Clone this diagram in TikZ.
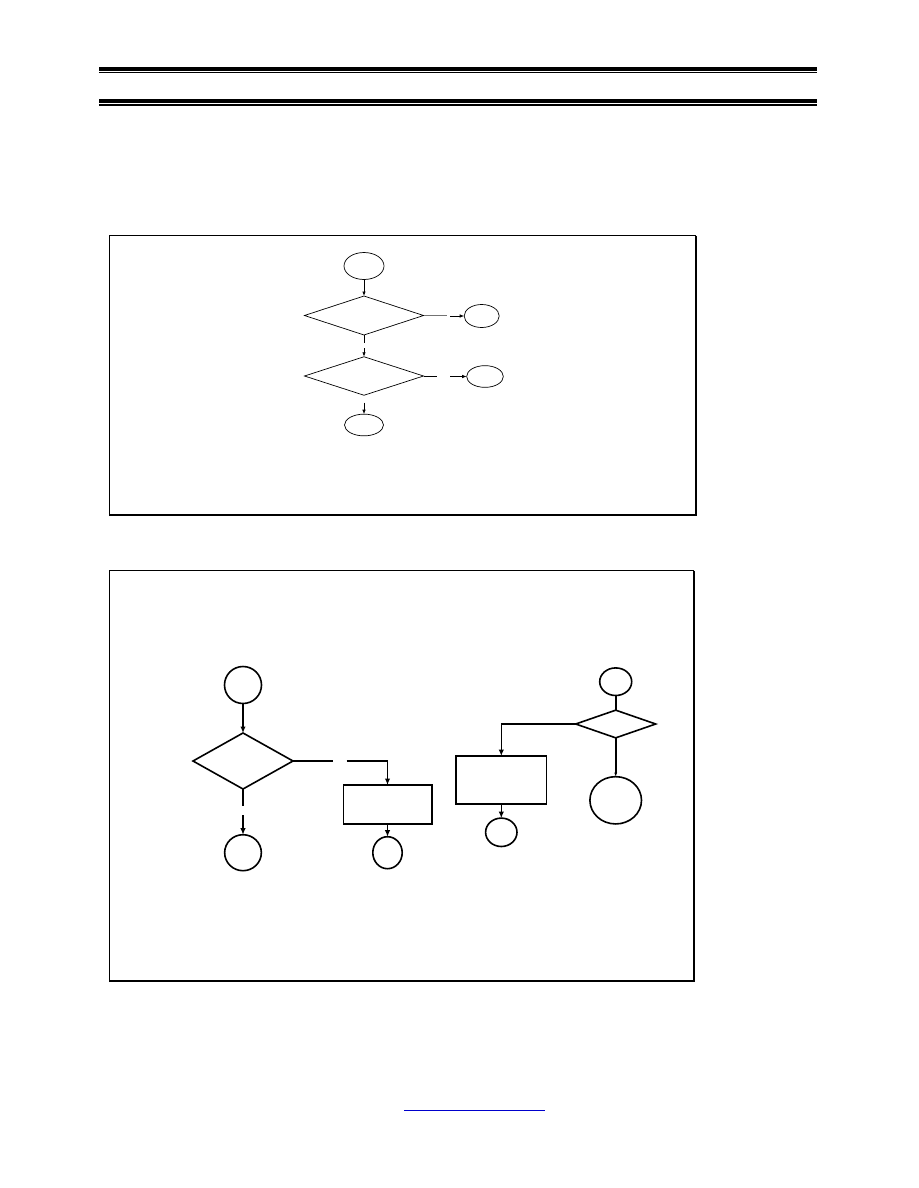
\documentclass[tikz,border=0pt]{standalone}
\usetikzlibrary{shapes.geometric,arrows.meta,calc}
\begin{document}
\begin{tikzpicture}[x=1pt,y=-1pt,
  every node/.style={inner sep=0pt,outer sep=0pt},
  thinline/.style={line width=0.7pt},
  boldline/.style={line width=1.6pt},
  oval/.style={draw,ellipse},
  dmd/.style={draw,diamond},
  box/.style={draw,rectangle},
  tip/.style={-{Latex[length=4.5pt,width=3.5pt]}},
  bigtip/.style={-{Latex[length=6.5pt,width=5.5pt]}},
  frame/.style={line width=0.8pt},
  shadow/.style={line width=2.4pt}
]
\useasboundingbox (0,0) rectangle (918,1188);

% header rules
\fill (99,66.7) rectangle (817,70.7);
\draw[line width=1.3pt] (99,72.8) -- (817,72.8);
\fill (99,99) rectangle (817,103);
\draw[line width=1.3pt] (99,105) -- (817,105);

% top frame
\draw[frame] (109.3,516) -- (109.3,235.7) -- (696,235.7);
\draw[shadow] (696,235.7) -- (696,514.8) -- (109.3,514.8);

% bottom frame
\draw[frame] (109.3,982) -- (109.3,570.7) -- (694,570.7);
\draw[shadow] (694,570.7) -- (694,981) -- (109.3,981);

% ---- top flowchart ----
\begin{scope}[thinline]
\node[oval,minimum width=40pt,minimum height=27pt] (e1) at (364,266) {};
\node[dmd,minimum width=119pt,minimum height=39pt] (d1) at (364,315.5) {};
\node[oval,minimum width=35pt,minimum height=23pt] (e2) at (481.7,316) {};
\node[dmd,minimum width=119pt,minimum height=38.5pt] (d2) at (364,376) {};
\node[oval,minimum width=36.7pt,minimum height=21.7pt] (e3) at (485,376.5) {};
\node[oval,minimum width=39pt,minimum height=21.7pt] (e4) at (364,425) {};

\coordinate (g1a) at (446.7,315.5);
\coordinate (g1b) at (450,316);
\coordinate (g2a) at (364,343.3);
\coordinate (g2b) at (364,348.3);
\coordinate (g3a) at (436.7,376);
\coordinate (g3b) at (450,376.5);
\coordinate (g4b) at (364,402.7);

\draw[tip] (e1.south) -- (d1.north);
\draw[draw=black!55] (d1.east) -- (g1a);
\draw[tip] (g1b) -- (e2.west);
\draw (d1.south) -- (g2a);
\draw[tip] (g2b) -- (d2.north);
\draw (d2.east) -- (g3a);
\draw[tip] (g3b) -- (e3.west);
\draw[tip] (g4b) -- (e4.north);
\end{scope}

% ---- bottom flowchart ----
\begin{scope}[boldline]
\node[oval,minimum width=37pt,minimum height=37pt] (c1) at (243,685) {};
\node[dmd,minimum width=100pt,minimum height=56pt] (d3) at (243,761) {};
\node[box,minimum width=88.4pt,minimum height=39pt] (r1) at (387.5,804.5) {};
\node[oval,minimum width=29.4pt,minimum height=32pt] (c2) at (387.5,852.7) {};
\node[oval,minimum width=36.7pt,minimum height=36pt] (c3) at (243,852.7) {};

\node[oval,minimum width=32pt,minimum height=27.6pt] (c4) at (615.7,681.7) {};
\node[dmd,minimum width=80pt,minimum height=27.7pt] (d4) at (615.7,724) {};
\node[box,minimum width=90.7pt,minimum height=48pt] (r2) at (501.3,780) {};
\node[oval,minimum width=31.4pt,minimum height=28.4pt] (c5) at (501.3,832.3) {};
\node[oval,minimum width=51.6pt,minimum height=47.3pt] (c6) at (615.7,800.3) {};

\coordinate (h1a) at (333.3,761);
\coordinate (h1b) at (346.7,761);
\coordinate (h2a) at (243,805.7);
\coordinate (h2b) at (243,815);

\draw[bigtip] (c1.south) -- (d3.north);
\draw (d3.east) -- (h1a);
\draw[bigtip] (h1b) -| (r1.north);
\draw[bigtip] (r1.south) -- (c2.north);
\draw (d3.south) -- (h2a);
\draw[bigtip] (h2b) -- (c3.north);

\draw (c4.south) -- (d4.north);
\draw[bigtip] (d4.west) -| (r2.north);
\draw[bigtip] (r2.south) -- (c5.north);
\draw[-{Latex[length=4pt,width=3pt]}] (d4.south) -- (c6.north);
\end{scope}

% link underline
\coordinate (la) at (404,1110);
\coordinate (lb) at (545,1110);
\draw[blue!80!black,line width=1pt] (la) -- (lb);
\end{tikzpicture}
\end{document}
